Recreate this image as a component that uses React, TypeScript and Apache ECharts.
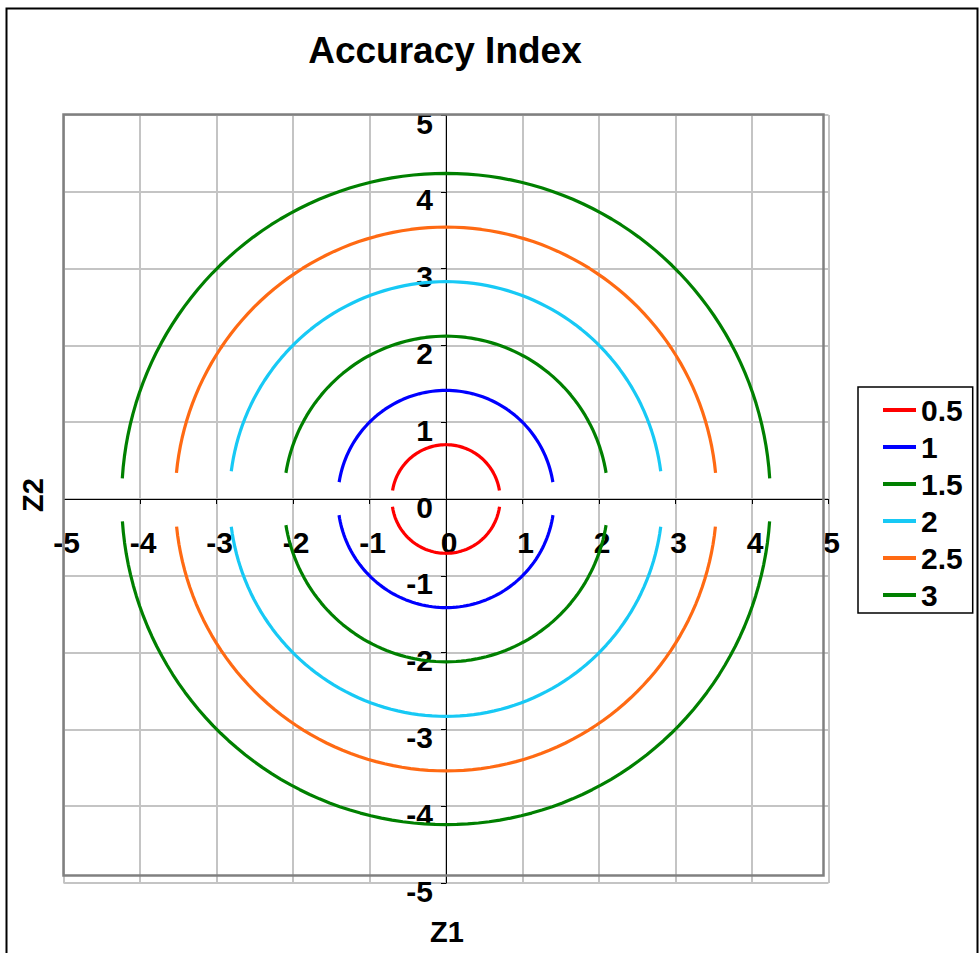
import React, { useEffect, useRef } from "react";
import * as echarts from "echarts";

// Contour levels shown in the legend
const levels = ["0.5", "1", "1.5", "2", "2.5", "3"];
// Radius of each contour ring (axis units)
const radii = [0.707, 1.414, 2.12, 2.83, 3.54, 4.24];
// y value where each upper arc ends (gap around the Z1 axis)
const upperEndY = [0.11, 0.22, 0.34, 0.36, 0.34, 0.27];
// |y| value where each lower arc starts
const lowerStartY = [0.1, 0.21, 0.34, 0.36, 0.36, 0.29];
const colors = ["#FF0000", "#0000FF", "#008000", "#17C9F5", "#FF6A13", "#008000"];

function ring(r: number, yu: number, yl: number) {
  const pts: (number[] | null)[] = [];
  const n = 90;
  const a0 = Math.asin(Math.min(1, yu / r));
  for (let i = 0; i <= n; i++) {
    const a = a0 + ((Math.PI - 2 * a0) * i) / n;
    pts.push([r * Math.cos(a), r * Math.sin(a)]);
  }
  pts.push(null);
  const b0 = Math.asin(Math.min(1, yl / r));
  for (let i = 0; i <= n; i++) {
    const a = Math.PI + b0 + ((Math.PI - 2 * b0) * i) / n;
    pts.push([r * Math.cos(a), r * Math.sin(a)]);
  }
  return pts;
}

const GRID = { left: 63.5, top: 115, width: 765, height: 768 };

export default function App() {
  const ref = useRef<HTMLDivElement>(null);
  useEffect(() => {
    document.body.style.margin = "0";
    if (!ref.current) return;
    const chart = echarts.init(ref.current, null, { renderer: "svg" });
    const font = "'Liberation Sans', Arial, sans-serif";
    const series = levels.map((name, i) => ({
      name,
      type: "line",
      data: ring(radii[i], upperEndY[i], lowerStartY[i]),
      showSymbol: false,
      connectNulls: false,
      lineStyle: { color: colors[i], width: 3.2 },
      itemStyle: { color: colors[i] },
      z: 3,
    }));
    chart.setOption({
      animation: false,
      backgroundColor: "#fff",
      textStyle: { fontFamily: font },
      title: {
        text: "Accuracy Index",
        left: 440,
        top: 27,
        textAlign: "center",
        textStyle: { fontSize: 37, fontWeight: "bold", color: "#000", fontFamily: font },
      },
      grid: GRID,
      xAxis: {
        type: "value",
        min: -5,
        max: 5,
        interval: 1,
        offset: -GRID.height / 2,
        axisLine: { onZero: false, lineStyle: { color: "#000", width: 1 } },
        axisTick: { show: true, length: 5, lineStyle: { color: "#000" } },
        axisLabel: {
          fontSize: 30,
          fontWeight: "bold",
          color: "#000",
          margin: 28,
          fontFamily: font,
          padding: [0, 0, 0, 6],
        },
        splitLine: { show: true, lineStyle: { color: "#c4c4c4", width: 2 } },
      },
      yAxis: {
        type: "value",
        min: -5,
        max: 5,
        interval: 1,
        offset: -GRID.width / 2,
        axisLine: { onZero: false, lineStyle: { color: "#000", width: 1 } },
        axisTick: { show: true, length: 5, lineStyle: { color: "#000" } },
        axisLabel: {
          fontSize: 30,
          fontWeight: "bold",
          color: "#000",
          margin: 13,
          fontFamily: font,
          verticalAlign: "top",
          lineHeight: 16,
        },
        splitLine: { show: true, lineStyle: { color: "#c4c4c4", width: 2 } },
      },
      legend: {
        orient: "vertical",
        left: 858,
        top: 387,
        icon: "rect",
        itemWidth: 33,
        itemHeight: 4,
        itemGap: 7,
        padding: [8, 10, 3, 25],
        borderColor: "#000",
        borderWidth: 1.5,
        data: levels,
        textStyle: { fontSize: 30, fontWeight: "bold", color: "#000", lineHeight: 30, fontFamily: font },
      },
      graphic: [
        {
          type: "rect",
          shape: { x: 6.5, y: 8.5, width: 971, height: 970 },
          style: { fill: "none", stroke: "#000", lineWidth: 2 },
          silent: true,
        },
        {
          type: "rect",
          shape: { x: 63.5, y: 114.5, width: 760, height: 761 },
          style: { fill: "none", stroke: "#808080", lineWidth: 2.5 },
          silent: true,
          z: 1,
        },
        {
          type: "text",
          x: 447,
          y: 932,
          style: { text: "Z1", fontSize: 29, fontWeight: "bold", fill: "#000", align: "center", verticalAlign: "middle", fontFamily: font },
        },
        {
          type: "text",
          x: 33,
          y: 495,
          rotation: Math.PI / 2,
          style: { text: "Z2", fontSize: 29, fontWeight: "bold", fill: "#000", align: "center", verticalAlign: "middle", fontFamily: font },
        },
      ],
      series,
    });
    return () => chart.dispose();
  }, []);
  return <div ref={ref} style={{ width: 979, height: 953 }} />;
}
